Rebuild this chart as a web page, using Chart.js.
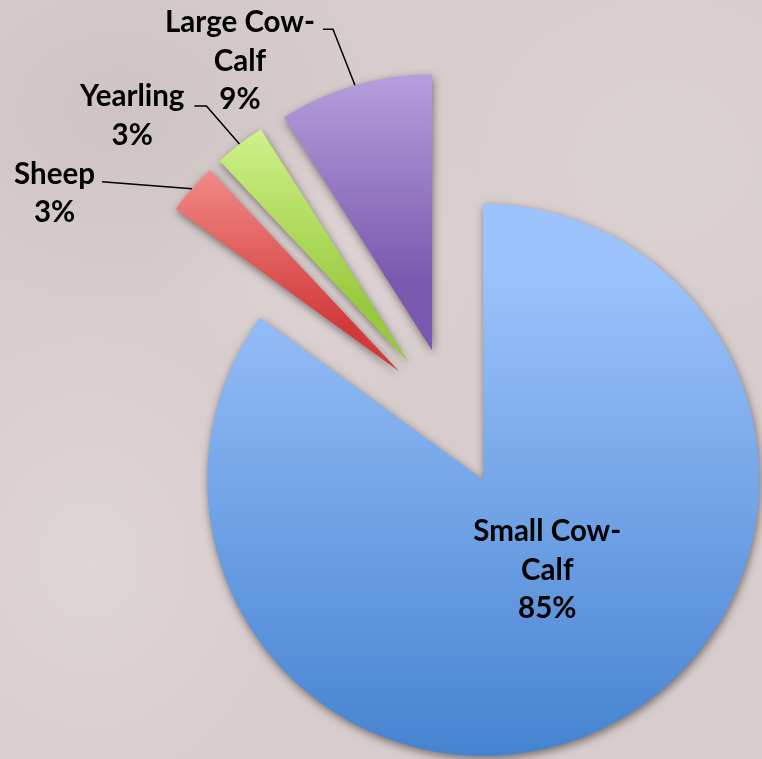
<!DOCTYPE html>
<html>
<head>
<meta charset="utf-8">
<script src="https://cdn.jsdelivr.net/npm/chart.js@4.4.0/dist/chart.umd.min.js"></script>
<style>
    html, body { margin: 0; padding: 0; }
    body {
        width: 762px;
        height: 759px;
        overflow: hidden;
        background-color: #d6cdcc;
        background-image:
            radial-gradient(ellipse 260px 200px at 120px 110px, rgba(195, 185, 183, 0.45), rgba(195, 185, 183, 0)),
            radial-gradient(ellipse 220px 260px at 90px 560px, rgba(228, 220, 218, 0.6), rgba(228, 220, 218, 0)),
            radial-gradient(ellipse 240px 220px at 660px 160px, rgba(222, 214, 213, 0.6), rgba(222, 214, 213, 0)),
            radial-gradient(ellipse 180px 160px at 330px 260px, rgba(226, 218, 216, 0.5), rgba(226, 218, 216, 0));
    }
    #wrap { position: relative; width: 762px; height: 759px; }
</style>
</head>
<body>
<div id="wrap"><canvas id="myChart"></canvas></div>
<script>
// Distribución de explotaciones por tipo (%)
const categories = ['Small Cow-Calf', 'Sheep', 'Yearling', 'Large Cow-Calf'];
const shareValues = [85, 3, 3, 9];
const labelLines = [['Small Cow-', 'Calf'], ['Sheep'], ['Yearling'], ['Large Cow-', 'Calf']];

// colores del degradado de cada porción (arriba / abajo)
const topColors = ['#9cc3fc', '#faa3a0', '#dffea2', '#cab6ec'];
const bottomColors = ['#3b7bca', '#d23a39', '#98c93c', '#7a58ad'];

const EXPLODE = 70;      // separación de cada porción respecto al centro
const RADIUS = 276;
const LABEL_FONT = 'bold 29.5px Lato';
const LINE_H = 38.5;

// posición de las etiquetas: interior respecto al vértice, exteriores con línea guía
const labelLayout = [
    {inside: true, dx: 64, dy: 90},
    {elbow: null, end: [-90, -7], gap: 7, base: 2},
    {elbow: [-33, -38], end: [-45, -38], gap: 10, base: 0},
    {elbow: [-22, -56], end: [-32, -56], gap: 8, base: 3}
];

const shiftOf = (arc) => {
    const mid = (arc.startAngle + arc.endAngle) / 2;
    return {dx: Math.cos(mid) * EXPLODE, dy: Math.sin(mid) * EXPLODE, mid};
};

// dibuja cada porción separada del centro, con degradado vertical y sombra
const explodedPie = {
    id: 'explodedPie',
    beforeDatasetDraw(chart, args) {
        const ctx = chart.ctx;
        args.meta.data.forEach((arc, i) => {
            const s = shiftOf(arc);
            const ax = arc.x + s.dx, ay = arc.y + s.dy;
            let minY = ay, maxY = ay;
            for (let k = 0; k <= 90; k++) {
                const a = arc.startAngle + (arc.endAngle - arc.startAngle) * k / 90;
                const y = ay + Math.sin(a) * arc.outerRadius;
                minY = Math.min(minY, y);
                maxY = Math.max(maxY, y);
            }
            const g = ctx.createLinearGradient(0, minY, 0, maxY);
            g.addColorStop(0, topColors[i]);
            g.addColorStop(1, bottomColors[i]);
            arc.options = Object.assign({}, arc.options, {backgroundColor: g});

            ctx.save();
            ctx.shadowColor = 'rgba(40, 30, 30, 0.55)';
            ctx.shadowBlur = 9;
            ctx.shadowOffsetX = 1;
            ctx.shadowOffsetY = 3;
            ctx.translate(s.dx, s.dy);
            arc.draw(ctx);
            ctx.restore();
        });
        return false;
    },
    afterDatasetsDraw(chart) {
        const ctx = chart.ctx;
        const meta = chart.getDatasetMeta(0);
        ctx.save();
        ctx.font = LABEL_FONT;
        ctx.fillStyle = '#000';
        ctx.strokeStyle = '#000';
        ctx.lineWidth = 1.5;
        ctx.textAlign = 'center';
        ctx.textBaseline = 'alphabetic';
        meta.data.forEach((arc, i) => {
            const s = shiftOf(arc);
            const px = arc.x + s.dx, py = arc.y + s.dy;
            const lines = labelLines[i].concat([shareValues[i] + '%']);
            const lay = labelLayout[i];
            if (lay.inside) {
                const cx = px + lay.dx, cy = py + lay.dy;
                const top = cy - (lines.length - 1) * LINE_H / 2 + 10;
                lines.forEach((t, k) => ctx.fillText(t, cx, top + k * LINE_H));
                return;
            }
            // punto de anclaje en el borde exterior, a mitad del arco
            const ax = px + Math.cos(s.mid) * arc.outerRadius;
            const ay = py + Math.sin(s.mid) * arc.outerRadius;
            const ex = ax + lay.end[0], ey = ay + lay.end[1];
            ctx.beginPath();
            ctx.moveTo(ax, ay);
            if (lay.elbow) ctx.lineTo(ax + lay.elbow[0], ay + lay.elbow[1]);
            ctx.lineTo(ex, ey);
            ctx.stroke();
            const w = ctx.measureText(lines[0]).width;
            const cx = ex - lay.gap - w / 2;
            const first = ey + lay.base;
            lines.forEach((t, k) => ctx.fillText(t, cx, first + k * LINE_H));
        });
        ctx.restore();
    }
};

const chart = document.getElementById('myChart');

new Chart(chart, {
    type: 'pie',
    data: {
        labels: categories,
        datasets: [{
            data: shareValues,
            backgroundColor: topColors,
            borderWidth: 0,
            offset: 0,
            hoverOffset: 0
        }]
    },
    options: {
        responsive: true,
        maintainAspectRatio: false,
        animation: false,
        radius: RADIUS,
        layout: {
            padding: {left: 141, right: 0, top: 76, bottom: 0}
        },
        plugins: {
            legend: {display: false},
            tooltip: {enabled: false}
        },
        events: []
    },
    plugins: [explodedPie]
});
</script>
</body>
</html>
